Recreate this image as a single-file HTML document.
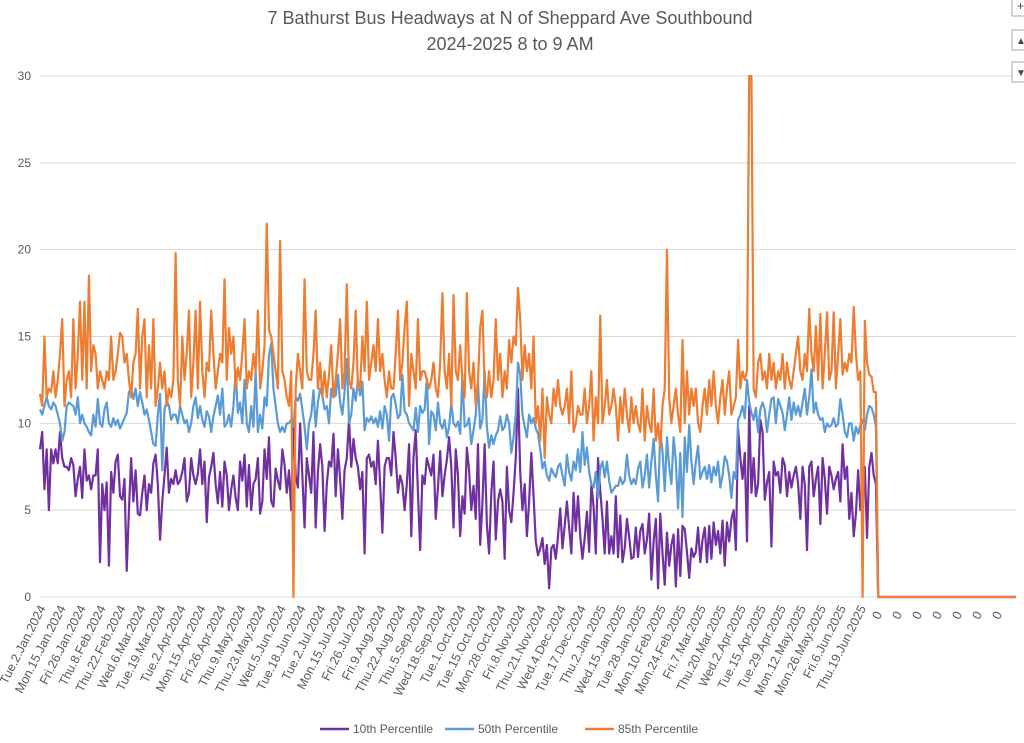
<!DOCTYPE html>
<html><head><meta charset="utf-8"><style>
body{margin:0;background:#fff;width:1024px;height:743px;overflow:hidden;font-family:"Liberation Sans",sans-serif}
svg{display:block}
</style></head><body>
<svg id="chart" width="1024" height="743" xmlns="http://www.w3.org/2000/svg">
<text x="510" y="24" text-anchor="middle" font-size="18" fill="#595959" font-family="Liberation Sans, sans-serif">7 Bathurst Bus Headways at N of Sheppard Ave Southbound</text>
<text x="510" y="50" text-anchor="middle" font-size="18" fill="#595959" font-family="Liberation Sans, sans-serif">2024-2025 8 to 9 AM</text>
<g id="grid"></g><g id="ylabels"></g><g id="xlabels"></g><g id="series"></g>
<g font-size="12" fill="#595959">
<g><line x1="320" y1="729" x2="349" y2="729" stroke="#7030A0" stroke-width="2.5"/><text x="353" y="733">10th Percentile</text></g>
<g><line x1="445" y1="729" x2="474" y2="729" stroke="#5B9BD5" stroke-width="2.5"/><text x="478" y="733">50th Percentile</text></g>
<g><line x1="585" y1="729" x2="614" y2="729" stroke="#ED7D31" stroke-width="2.5"/><text x="618" y="733">85th Percentile</text></g>
</g>
<g><rect x="1012" y="-4" width="20" height="20" fill="#fff" stroke="#aaa"/><text x="1017" y="10" font-size="12" fill="#444">+</text></g>
<g><rect x="1012" y="30" width="20" height="20" fill="#fff" stroke="#aaa"/><text x="1016" y="44" font-size="10" fill="#444">▲</text></g>
<g><rect x="1012" y="62" width="20" height="20" fill="#fff" stroke="#aaa"/><text x="1016" y="76" font-size="10" fill="#444">▼</text></g>
</svg>
<script>
const yTicks=[0,5,10,15,20,25,30];
const xTickLabels=["Tue.2.Jan.2024","Mon.15.Jan.2024","Fri.26.Jan.2024","Thu.8.Feb.2024","Thu.22.Feb.2024","Wed.6.Mar.2024","Tue.19.Mar.2024","Tue.2.Apr.2024","Mon.15.Apr.2024","Fri.26.Apr.2024","Thu.9.May.2024","Thu.23.May.2024","Wed.5.Jun.2024","Tue.18.Jun.2024","Tue.2.Jul.2024","Mon.15.Jul.2024","Fri.26.Jul.2024","Fri.9.Aug.2024","Thu.22.Aug.2024","Thu.5.Sep.2024","Wed.18.Sep.2024","Tue.1.Oct.2024","Tue.15.Oct.2024","Mon.28.Oct.2024","Fri.8.Nov.2024","Thu.21.Nov.2024","Wed.4.Dec.2024","Tue.17.Dec.2024","Thu.2.Jan.2025","Wed.15.Jan.2025","Tue.28.Jan.2025","Mon.10.Feb.2025","Mon.24.Feb.2025","Fri.7.Mar.2025","Thu.20.Mar.2025","Wed.2.Apr.2025","Tue.15.Apr.2025","Tue.29.Apr.2025","Mon.12.May.2025","Mon.26.May.2025","Fri.6.Jun.2025","Thu.19.Jun.2025","0","0","0","0","0","0","0"];
const labelEvery=9;
const p85=[11.7,11,15,11.5,12,11.8,13,11.5,12.5,14,
16,11,12.5,13,11.5,16,12,14,17,12.5,
17,12,18.5,13,14.5,14,12,13,12.5,12,
13,12.5,15,12.5,13,14,15.2,15,13.5,14,
12.5,11.5,13.5,14,16.6,12,15,16,11.5,14.5,
12,16,11,12,13.5,12,13,11,12,11.5,12.5,
19.8,12.5,11,15,12.5,14,16.5,11.5,13.5,16.5,
12,17,13,11.5,13.5,13,16.5,14,12,13,
14,13.5,18.3,12.5,15.5,14,15,12,13.2,12.5,
14,16,12,13,12.5,14,13,16.5,12,13,
14.5,21.5,15.4,15,14,13,12,20.5,13,12.5,
11.5,11,13,0,12,14,13,12,18.3,13,12.5,
12.5,14,16.5,12,13.5,11.5,13,11.5,12.8,14.5,
11.5,12.5,14,16,12,13,18,12.5,12,13.5,
16.5,12,12,15,13,17,12.5,13.5,14.5,13,
16,13,14,12.5,11.5,13,12,12,14,16.5,
12.5,13.5,15.5,17,11,14,13,12,16,12.5,
13,13,12.5,12,12.5,13.5,12,11.5,13.5,17.5,13,
12,14,11,17.4,13,12.5,14.5,12.5,11.5,17.5,
13,12,13.5,11,12.5,15.5,16.5,12,11.5,13,
11.5,12.5,16,12.5,14,11.5,13,12,14.8,13.5,
15,14.5,17.8,16,12.5,14.5,13,14,12,15,
10,11,9,12,8,11.5,10.5,10,12,11,
12.5,11,10.5,11,12,10,13,9.5,10,11,10.5,
10.5,12,10,11,13,9,11.5,10,16.2,10,
11,12.5,10.5,11,12,11,9,11.5,10,12,
10.5,9.5,11.5,10,11,10,9.5,12,9,11,
10,9.5,12,9,10,8.5,11,12,20,11.5,
10,11,12,10.5,9.5,14.8,10,13,10.5,12,
11,12,10,9.5,11,12,10.5,12.5,11,13,11,
10,11.5,12.5,10.5,12,13,10.5,11,11.5,14.8,
12,13,12.5,13,30,30,12,11.5,13.5,14,
12.5,13,12,14,12.5,13.5,12,13,12.5,14,
12,13.5,12.5,12,13,14,15,13,12.5,14,
13,16.6,14,13,15.6,12.5,16.3,12,14,16.4,
12.5,13,16.4,12,14,16,12.8,13.5,13,14,13.5,
16.7,14,12.5,13,0,15.9,13.5,12.8,12.7,11.8,
11.8,0,
0,0,0,0,0,0,0,0,0,0,0,0,0,0,0,0,0,0,0,0,0,0,0,0,0,0,0,0,0,0,0,0,0,0,0,0,0,0,0,0,0,0,0,0,0,0,0,0,0,0,0,0,0,0,0,0,0,0,0,0,0,0];
const p50=[10.8,10.5,11,11.5,11,10.8,11.2,11,10.5,10,
9,9.5,11,11.2,11.1,11,10.5,11.5,10,10.5,
10,9.8,9.5,9.3,10.5,9.8,11.4,10,9.8,10.8,
11.2,10,9.8,10.3,9.9,10.2,9.7,10,10.3,10.6,
11.8,12,11.4,12,11,11.8,11.2,10.5,10.8,10.2,
9.5,8.8,8.7,10.5,11.7,7.3,10.8,11.3,11,10.2,10.5,
10.5,10,11,10.5,10,10.2,9.5,10,11,11.5,
10.3,11,10.2,9.8,10.7,10.4,9.5,10.4,11,11.6,
10.5,12,9.8,10,10.5,9.8,11,13,10.6,11.2,
10,12.5,10,9.5,11,9.8,13,9.5,10.5,9.7,
11.5,11,13.9,14.6,12,11,10,9.5,9.8,9.5,
10,10,10.2,9.8,11.5,11.3,11.7,10.8,9.8,8.5,10,
10.5,11.9,9.8,11.2,12,11.6,10.8,11,10,12,
11.5,11.6,12.8,11.2,10.5,11.8,13.7,10,10.5,12,
11.3,12.5,11.6,12.4,9.6,10.3,10.1,10.4,10,10.3,
9.8,10.7,9.7,11,10.5,9,11.5,11.7,11.1,10.3,
10.5,12.8,10.7,10.5,10,9.8,9.6,10.9,9.5,11,
10.6,10.8,12.6,8.8,10.7,10.5,9.6,11.2,10,9.7,10.2,
9.2,9.8,11.2,10,9.8,10.1,9.4,12.8,9.8,9.9,
10.3,8.8,9.6,10.5,12.4,9.7,10.2,13,9.8,8.6,
9.3,8.8,9.3,9.6,10.4,9.6,9.8,10.5,10,8.3,
9.2,10.5,13.5,12.8,10.5,9.8,9.2,10.5,10,10.3,
9.7,9.4,8.5,7.4,7.8,7,6.7,7.4,7.1,6.9,
7.5,7.7,7,6.4,8.2,7.2,6.7,7.8,7.3,8.5,7.2,
9.5,7.6,8.6,7.2,6.5,6.3,7.2,5.7,7.4,7.8,
6.9,7.8,6.7,6,6.2,6.4,6.4,6.9,6.5,6.7,
8.2,7,6.5,6.8,6.5,7.4,7.8,6.3,7,8.2,
6.3,7.8,9.1,7,5.5,9.5,8.4,6.1,9.2,7.5,
6.5,9.2,7.8,5.1,8.3,4.6,9.2,7.2,9.9,7.8,
6.5,7.8,8.7,6.8,7.2,7.5,6.8,7.6,6.6,7.5,7,
7.8,6.3,7,8.1,7.8,7,5.7,7.2,6.8,10.2,
10.5,11,10.3,12.5,11.2,10.6,10.2,10.9,9.5,10.8,
11.2,10.8,9.5,10.5,11.4,11.5,10,11.4,11,10.6,
9.6,10.5,11.5,10.2,11.2,10.5,11,10.4,11.2,12,
10.5,11.5,13.1,10.6,11.2,10.5,10.2,10.3,9.5,10,
9.8,9.9,10.3,9.8,10,11.4,10.5,9.5,9.2,10,10,
9,9.8,9.4,9.9,10.2,9.6,10.5,11,10.9,10.5,
9.8,0,
0,0,0,0,0,0,0,0,0,0,0,0,0,0,0,0,0,0,0,0,0,0,0,0,0,0,0,0,0,0,0,0,0,0,0,0,0,0,0,0,0,0,0,0,0,0,0,0,0,0,0,0,0,0,0,0,0,0,0,0,0,0];
const p10=[8.5,9.5,6.2,8.5,5,8.5,7.7,8.5,7.7,9.5,
8,7.5,7.5,7.3,8,7.6,5.8,6.8,7.5,5.7,
8.5,6.7,7,6.2,7,7,8.5,2,6.5,5,
6.6,1.8,7.2,6,7.8,8.2,5.8,5.6,6.8,1.5,
5,8,5.5,7.3,4.8,4.7,6,7,5,6.5,
6,7.7,8.2,6.5,3.3,5.5,7,8.6,6,6.8,6.5,
7.3,6.5,6.7,7.2,8,5.5,6,8,7,6.5,
7.1,8.5,6.5,7.8,4.3,6.9,7.5,8.3,6.5,5.4,
7.2,5.2,7.8,7,5,6.2,7,5.7,5,7.8,
6.7,8.2,5.2,7.6,5,6.5,6.8,8,4.8,5.5,
8.5,6.8,9.2,5.5,5.2,7.4,6.7,6.2,8.5,7.6,
6,7.3,5,10.2,7,6.3,10,7,4,8,7,
6,9.5,4,7.2,8.8,7.5,3.8,6.5,7.8,7.5,
9.4,5.8,8.5,6.8,4.5,7.3,8,10.2,7.5,9.1,
8,7.5,6.2,7.2,2.5,8,8.2,7.5,7.8,6.5,
9,6.5,3.7,7.5,8,8,7,9.5,8,6,
7,6.5,5,6.5,8.8,3.5,8,9.6,6,2.7,
7,6.5,8,7.5,7,8.2,4.5,6.3,8.4,5.8,7,
7.9,9.2,7.5,4,8.5,7,3.5,5.8,4.8,8.6,
7.3,5,6.4,4.5,8.8,3,5.4,8.8,4.2,2.5,
6,7.8,3.3,5.5,6.2,5.5,2.2,7.5,5,4.3,
6,8,12,7.2,5,6.5,3.5,5.5,8.3,5.8,
3.2,2.4,2.8,3.4,1.9,3,0.5,2.8,3,2.2,
3.5,5.1,2.8,4.1,5.5,4,2.5,6,3.8,5.8,3.5,
2.2,3.4,4.9,2.6,6.5,5.2,2.5,8,6.1,4.5,
2.5,5.5,2.5,3.5,2.5,5.8,2.3,4.7,2,2.8,
4.5,3.5,2.2,2.3,4,2.3,3.8,4.2,2.5,3.3,
4.8,1,3.2,4.5,0.5,4.8,2.5,0.7,3.7,1.8,
3,3.6,0.6,3.9,1.2,4.1,3.9,2.6,1.1,2.8,
2.3,2.6,4,2,3.3,4,2,4.1,2.2,4.3,3,
3.8,2.5,4.4,1.8,4.3,3.2,4.5,5,2.7,9.7,
8,6.8,8.3,3.2,11,6,8,5.8,6.5,10.2,
9.5,5.6,6.6,7.2,2.9,7.8,7,7.2,6,8,
7.6,5.8,7.2,6.3,7,7.5,6.5,4.5,7.5,6.5,
2.7,7.5,7.8,5.8,6.8,7.5,4.2,8,6.8,4.8,
7.5,7,6.2,6.8,7.2,5.5,8.8,6.8,7.5,4.5,6,
3.5,4.8,7.3,5,6.5,7.5,3.4,7.5,8.3,7,
6.5,0,
0,0,0,0,0,0,0,0,0,0,0,0,0,0,0,0,0,0,0,0,0,0,0,0,0,0,0,0,0,0,0,0,0,0,0,0,0,0,0,0,0,0,0,0,0,0,0,0,0,0,0,0,0,0,0,0,0,0,0,0,0,0];

const NS="http://www.w3.org/2000/svg";
const L=40,R=1016,T=76,B=597,YMAX=30;
const N=Math.max(p10.length,p50.length,p85.length);
const xs=i=>L+i*(R-L)/(N-1);
const ys=v=>B-v*(B-T)/YMAX;
function mk(tag,attrs,parent){const e=document.createElementNS(NS,tag);for(const k in attrs)e.setAttribute(k,attrs[k]);parent.appendChild(e);return e;}
const grid=document.getElementById('grid'),yl=document.getElementById('ylabels'),xl=document.getElementById('xlabels'),sg=document.getElementById('series');
yTicks.forEach(t=>{
  const g=mk('line',{x1:L,x2:R,y1:ys(t),y2:ys(t),stroke:'#d9d9d9','stroke-width':1},grid);
  
  
  const tx=mk('text',{x:31,y:ys(t)+4,'text-anchor':'end','font-size':12,fill:'#595959'},yl);
  tx.textContent=t;
  
  
});
xTickLabels.forEach((lab,k)=>{
  const x=xs(k*labelEvery)+6,y=608;
  const tx=mk('text',{x:x,y:y,'text-anchor':'end','font-size':12.5,fill:'#595959',transform:`rotate(-63 ${x} ${y})`},xl);
  if(lab==='0'){tx.setAttribute('transform',`rotate(-63 ${x-4} ${y+6})`);tx.setAttribute('x',x-4);tx.setAttribute('y',y+6);}
  tx.textContent=lab;
  
  
});
[[p10,'#7030A0','series-10th-percentile'],[p50,'#5B9BD5','series-50th-percentile'],[p85,'#ED7D31','series-85th-percentile']].forEach(([d,c,n])=>{
  const pts=d.map((v,i)=>xs(i).toFixed(2)+','+ys(v).toFixed(2)).join(' ');
  const pl=mk('polyline',{points:pts,fill:'none',stroke:c,'stroke-width':2.2,'stroke-linejoin':'round'},sg);
  
  
});
</script>
</body></html>
